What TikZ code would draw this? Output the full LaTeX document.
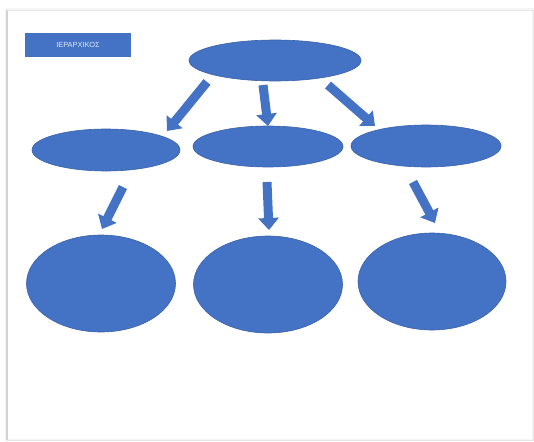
\documentclass[tikz,border=0pt]{standalone}
\usepackage{fontspec}
\setmainfont{Liberation Sans}
\usepackage{xcolor}
\usetikzlibrary{shapes.geometric,arrows.meta}

\definecolor{officeblue}{HTML}{4472C4}
\definecolor{officeedge}{HTML}{3A62A8}

\tikzset{
  flatoval/.style={ellipse, fill=officeblue, draw=officeedge, line width=0.6pt,
    minimum width=#1, inner sep=0pt},
  blockarrow/.style={officeblue, line width=9pt,
    -{Triangle[width=20pt,length=12pt]}},
  titlebox/.style={rectangle, fill=officeblue, minimum width=106pt,
    minimum height=24pt, inner sep=0pt, text=white!85!officeblue,
    font=\fontsize{7.4}{8}\selectfont}
}

\begin{document}
\begin{tikzpicture}[x=1pt, y=-1pt]
\useasboundingbox (0,0) rectangle (534,441);

% Page sheet
\fill[gray!8] (5,8) rectangle (534,441);
\fill[white] (8,11) rectangle (532,439);
\draw[gray!35, line width=1.2pt] (7,10) -- (7,440);
\draw[gray!20, line width=0.8pt] (7,10) -- (533,10) -- (533,440) -- (7,440);

% Title
\node[titlebox] (title) at (78,45) {ΙΕΡΑΡΧΙΚΟΣ};

% Top level
\node[flatoval=172pt, minimum height=41pt] (root) at (275,60.5) {};

% Second level
\node[flatoval=148pt, minimum height=42pt] (midL) at (106,150) {};
\node[flatoval=150pt, minimum height=41pt] (midC) at (268,146.5) {};
\node[flatoval=150pt, minimum height=42pt] (midR) at (426,146) {};

% Third level
\node[flatoval=149pt, minimum height=97pt] (lowL) at (101,283.5) {};
\node[flatoval=149pt, minimum height=97pt] (lowC) at (268,284.5) {};
\node[flatoval=148pt, minimum height=97pt] (lowR) at (432,281.5) {};

% Arrow ends
\coordinate (rootL) at (207,82);
\coordinate (rootC) at (263,85);
\coordinate (rootR) at (328,85);
\coordinate (intoL) at (167,131);
\coordinate (intoC) at (268,126);
\coordinate (intoR) at (375,126);

\coordinate (fromL) at (123,187);
\coordinate (fromC) at (267,182);
\coordinate (fromR) at (413,182);
\coordinate (downL) at (102,229);
\coordinate (downC) at (269,230);
\coordinate (downR) at (435,223);

% Arrows from root
\draw[blockarrow] (rootL) -- (intoL);
\draw[blockarrow] (rootC) -- (intoC);
\draw[blockarrow] (rootR) -- (intoR);

% Arrows to the lower ovals
\draw[blockarrow] (fromL) -- (downL);
\draw[blockarrow] (fromC) -- (downC);
\draw[blockarrow] (fromR) -- (downR);

\end{tikzpicture}
\end{document}
